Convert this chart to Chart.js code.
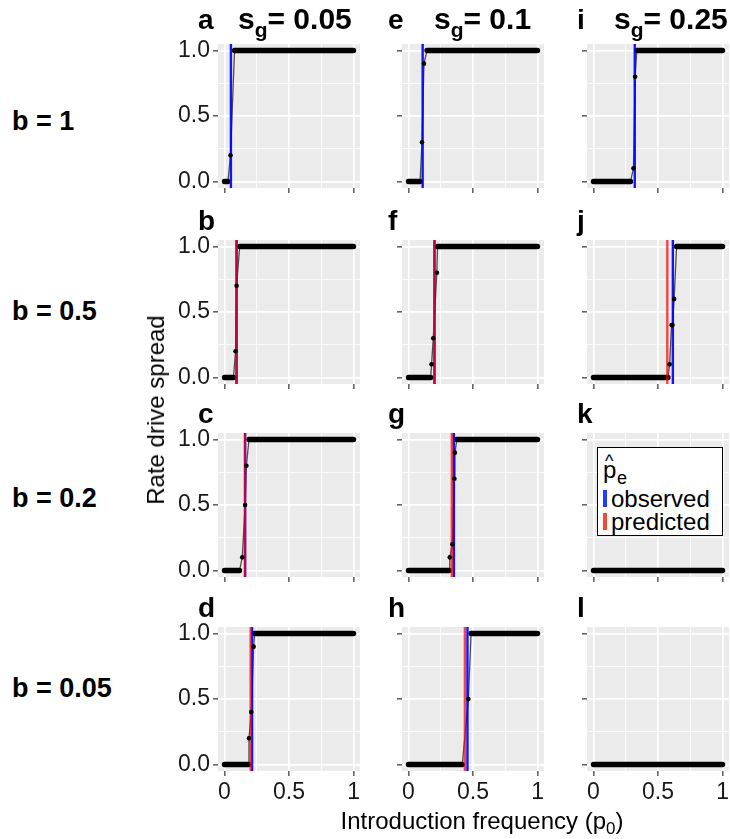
<!DOCTYPE html>
<html>
<head>
<meta charset="utf-8">
<script src="https://cdn.jsdelivr.net/npm/chart.js@4.4.0/dist/chart.umd.min.js"></script>
<style>
  html, body { margin: 0; padding: 0; background: #fff; overflow: hidden; }
  #figure { position: relative; width: 730px; height: 839px; font-family: "Liberation Sans", Arial, sans-serif; color: #000; }
  #figure canvas { position: absolute; }
  .txt { position: absolute; white-space: nowrap; }
  .bold { font-weight: bold; }
</style>
</head>
<body>
<div id="figure"></div>
<script>
// panels row by row: b = 1, 0.5, 0.2, 0.05 ; columns s_g = 0.05, 0.1, 0.25
const panelLetters = ['a', 'e', 'i', 'b', 'f', 'j', 'c', 'g', 'k', 'd', 'h', 'l'];
const sgLabels = ['0.05', '0.1', '0.25'];
const bLabels = ['1', '0.5', '0.2', '0.05'];
const p0TickLabels = ['0', '0.5', '1'];
const rateTickLabels = ['0.0', '0.5', '1.0'];

// last p0 where the drive never spreads / first p0 where it always spreads
const zeroUntil = [0.027, 0.09, 0.287, 0.07, 0.172, 0.577, 0.117, 0.315, 1, 0.187, 0.417, 1];
const fullFrom = [0.078, 0.144, 0.336, 0.118, 0.225, 0.644, 0.19, 0.375, null, 0.234, 0.485, null];

// runs in between
const midP0 = [[0.047], [0.105, 0.12], [0.31, 0.323], [0.086, 0.094], [0.179, 0.192, 0.22],
  [0.59, 0.605, 0.612, 0.625], [0.138, 0.16, 0.17], [0.32, 0.34, 0.356, 0.36], [],
  [0.19, 0.208, 0.226], [0.464], []];
const midRate = [[0.2], [0.3, 0.9], [0.1, 0.8], [0.2, 0.7], [0.1, 0.3, 0.8],
  [0.1, 0.4, 0.4, 0.6], [0.1, 0.5, 0.8], [0.1, 0.2, 0.7, 0.9], [],
  [0.2, 0.4, 0.9], [0.5], []];

// threshold p_e
const observedPe = [0.05, 0.11, 0.32, 0.094, 0.202, 0.615, 0.16, 0.352, null, 0.214, 0.457, null];
const predictedPe = [null, null, null, 0.093, 0.2, 0.572, 0.159, 0.336, null, 0.203, 0.437, null];

const legendLabels = ['observed', 'predicted'];

/* ---------- layout ---------- */
const fig = document.getElementById('figure');
const FONT = '"Liberation Sans", Arial, sans-serif';
const colLeft = [218, 402, 587];
const rowTop = [44, 240, 433, 627];
const panelW = 142, panelH = 144;
const axisW = 50, axisH = 40, padTop = 14, padRight = 4;

const BLUE = 'rgba(0, 0, 255, 0.92)';
const RED = 'rgba(255, 0, 0, 0.72)';

const gridAt = [0, 0.25, 0.5, 0.75, 1];
const majorAt = [0, 0.5, 1];
const isMajor = c => c.tick && majorAt.includes(c.tick.value);

function addText(html, x, baseline, size, bold, extra) {
  const d = document.createElement('div');
  d.className = 'txt' + (bold ? ' bold' : '');
  d.style.left = x + 'px';
  d.style.top = (baseline - 0.8465 * size) + 'px';
  d.style.fontSize = size + 'px';
  d.style.lineHeight = size + 'px';
  if (extra) Object.assign(d.style, extra);
  d.innerHTML = html;
  (extra && extra.parent ? extra.parent : fig).appendChild(d);
  return d;
}

// gray panel background
const panelBg = {
  id: 'panelBg',
  beforeDraw(chart) {
    const { ctx, chartArea: a } = chart;
    ctx.save();
    ctx.fillStyle = '#ebebeb';
    ctx.fillRect(a.left, a.top, a.width, a.height);
    ctx.restore();
  }
};

function axisOpts(labels, showLabels, horizontal) {
  return {
    type: 'linear',
    min: -0.05,
    max: 1.05,
    afterBuildTicks: s => { s.ticks = gridAt.map(v => ({ value: v })); },
    afterFit: s => {
      if (horizontal) s.height = axisH; else s.width = axisW;
      s.paddingTop = s.paddingBottom = s.paddingLeft = s.paddingRight = 0;
    },
    border: { display: false },
    grid: {
      color: '#ffffff',
      lineWidth: c => isMajor(c) ? 1.7 : 0.8,
      tickColor: c => isMajor(c) ? '#333333' : 'rgba(0,0,0,0)',
      tickLength: 5,
      tickWidth: 1.2
    },
    ticks: {
      display: showLabels,
      autoSkip: false,
      maxRotation: 0,
      padding: 3,
      color: '#1a1a1a',
      font: { family: FONT, size: 23 },
      callback: v => { const k = majorAt.indexOf(v); return k < 0 ? '' : labels[k]; }
    }
  };
}

function vline(x, color) {
  return {
    data: [{ x: x, y: -0.05 }, { x: x, y: 1.05 }],
    borderColor: color, borderWidth: 2.4, pointRadius: 0
  };
}

for (let r = 0; r < 4; r++) {
  for (let c = 0; c < 3; c++) {
    const i = r * 3 + c;

    const curve = [{ x: 0, y: 0 }, { x: zeroUntil[i], y: 0 }];
    midP0[i].forEach((x, k) => curve.push({ x: x, y: midRate[i][k] }));
    const plateaus = [{ x: 0, y: 0 }, { x: zeroUntil[i], y: 0 }];
    if (fullFrom[i] !== null) {
      curve.push({ x: fullFrom[i], y: 1 }, { x: 1, y: 1 });
      plateaus.push({ x: (zeroUntil[i] + fullFrom[i]) / 2, y: null }, { x: fullFrom[i], y: 1 }, { x: 1, y: 1 });
    }
    const mids = midP0[i].map((x, k) => ({ x: x, y: midRate[i][k] }));

    // first dataset ends up on top
    const datasets = [];
    datasets.push({ data: mids, showLine: false, pointRadius: 2.3, pointBorderWidth: 0, pointBackgroundColor: '#000' });
    if (predictedPe[i] !== null) datasets.push(vline(predictedPe[i], RED));
    if (observedPe[i] !== null) datasets.push(vline(observedPe[i], BLUE));
    datasets.push({ data: plateaus, borderColor: '#000', borderWidth: 5.4, borderCapStyle: 'round', pointRadius: 0, spanGaps: false });
    datasets.push({ data: curve, borderColor: '#4d4d4d', borderWidth: 1.3, pointRadius: 0 });

    const canvas = document.createElement('canvas');
    canvas.width = axisW + panelW + padRight;
    canvas.height = padTop + panelH + axisH;
    canvas.style.left = (colLeft[c] - axisW) + 'px';
    canvas.style.top = (rowTop[r] - padTop) + 'px';
    canvas.style.width = canvas.width + 'px';
    canvas.style.height = canvas.height + 'px';
    fig.appendChild(canvas);

    new Chart(canvas, {
      type: 'line',
      data: { datasets: datasets },
      options: {
        responsive: false,
        animation: false,
        devicePixelRatio: 1,
        events: [],
        layout: { autoPadding: false, padding: { top: padTop, right: padRight, left: 0, bottom: 0 } },
        plugins: { legend: { display: false }, tooltip: { enabled: false } },
        scales: {
          x: axisOpts(p0TickLabels, r === 3, true),
          y: axisOpts(rateTickLabels, c === 0, false)
        }
      },
      plugins: [panelBg]
    });
  }
}

/* ---------- text ---------- */
const letterX = [198, 388, 577];
const letterBase = [30, 231, 424, 618];
const titleX = [238, 434, 614];
for (let r = 0; r < 4; r++) {
  for (let c = 0; c < 3; c++) {
    addText(panelLetters[r * 3 + c], letterX[c], letterBase[r], 28, true);
  }
}
sgLabels.forEach((s, c) => {
  addText('s<span style="font-size:21px;position:relative;top:8px">g</span>= ' + s, titleX[c], 29, 30, true);
});

const rowBase = [131, 321, 508, 698];
bLabels.forEach((b, r) => addText('b = ' + b, 12, rowBase[r], 27, true));

// axis titles
addText('Rate drive spread', 156, 410, 24, false, { top: '410px', lineHeight: '24px', transform: 'translate(-50%, -50%) rotate(-90deg)' });
addText('Introduction frequency (p<span style="font-size:17px;position:relative;top:5px">0</span>)', 482, 829, 24, false, { transform: 'translateX(-50%)' });

/* ---------- legend in panel k ---------- */
const box = document.createElement('div');
Object.assign(box.style, {
  position: 'absolute', left: '597px', top: '447px', width: '126px', height: '89px',
  boxSizing: 'border-box', border: '1.5px solid #000', background: '#fff'
});
fig.appendChild(box);
addText('^', 7, 19, 18, false, { parent: box });
addText('p', 5, 30, 24, false, { parent: box });
addText('e', 19, 36, 18, false, { parent: box });
const keyColors = ['#1f3cff', '#ee4b3b'];
legendLabels.forEach((lab, k) => {
  const base = 59 + k * 23;
  const bar = document.createElement('div');
  Object.assign(bar.style, {
    position: 'absolute', left: '5px', top: (base - 17) + 'px', width: '3.5px', height: '17px', background: keyColors[k]
  });
  box.appendChild(bar);
  addText(lab, 13, base, 24, false, { parent: box });
});
</script>
</body>
</html>
